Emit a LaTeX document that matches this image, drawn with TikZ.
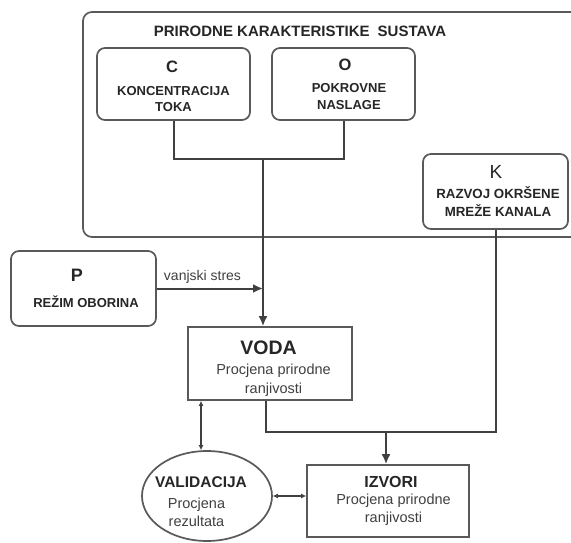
\documentclass[tikz,border=0pt]{standalone}
\usepackage{fontspec}
\setmainfont{Liberation Sans}
\usetikzlibrary{arrows.meta,shapes.geometric}
\begin{document}
\begin{tikzpicture}[x=1pt,y=-1pt,
  ln/.style={draw=black!75,line width=2pt},
  rbox/.style={draw=black!65,line width=1.7pt,rounded corners=8pt,inner sep=0pt},
  sbox/.style={draw=black!65,line width=1.7pt,inner sep=0pt},
  big/.style={-{Latex[length=10pt,width=9pt]}},
  small/.style={{Latex[length=5pt,width=5pt]}-{Latex[length=5pt,width=5pt]}},
  capt/.style={font=\fontsize{13}{16}\bfseries\selectfont,align=center,inner sep=0pt,text=black!85},
  lett/.style={font=\fontsize{16.5}{18}\bfseries\selectfont,inner sep=0pt,text=black!85},
  desc/.style={font=\fontsize{14.5}{19}\selectfont,align=center,inner sep=0pt,text=black!75},
  head/.style={font=\fontsize{16}{18}\bfseries\selectfont,inner sep=0pt,text=black!85}
]
\useasboundingbox (0,0) rectangle (571,543);
\clip (0,0) rectangle (571,543);
\fill[white] (0,0) rectangle (571,543);
% outer frame
\draw[draw=black!65,line width=1.7pt,rounded corners=9pt] (83,12) rectangle (590,237);
\node[font=\fontsize{15}{17}\bfseries\selectfont,text=black!85] (title) at (300,31) {PRIRODNE KARAKTERISTIKE\hspace{8pt}SUSTAVA};
% boxes
\node[rbox,minimum width=153pt,minimum height=72pt] (C) at (173.5,84) {};
\node[lett] (Cl) at (172,67) {C};
\node[capt] (Ct) at (173.5,99) {KONCENTRACIJA\\TOKA};
\node[rbox,minimum width=143pt,minimum height=72pt] (O) at (343.5,84) {};
\node[lett] (Ol) at (345,65) {O};
\node[capt,font=\fontsize{13}{17}\bfseries\selectfont] (Ot) at (349,96.5) {POKROVNE\\NASLAGE};
\node[rbox,minimum width=145pt,minimum height=75pt] (K) at (495.5,191.5) {};
\node[font=\fontsize{19}{20}\selectfont,inner sep=0pt,text=black!85] (Kl) at (496,172) {K};
\node[capt,font=\fontsize{13.3}{18}\bfseries\selectfont] (Kt) at (498,202) {RAZVOJ OKRŠENE\\MREŽE KANALA};
\node[rbox,minimum width=145pt,minimum height=75pt] (P) at (83.5,288.5) {};
\node[lett,font=\fontsize{18}{20}\bfseries\selectfont] (Pl) at (77,275) {P};
\node[capt] (Pt) at (86,302) {REŽIM OBORINA};
\node[sbox,minimum width=164pt,minimum height=73pt] (VODA) at (270,363.5) {};
\node[head,font=\fontsize{19.5}{21}\bfseries\selectfont] (Vh) at (268.5,348) {VODA};
\node[desc] (Vt) at (273.5,380) {Procjena prirodne\\ranjivosti};
\node[sbox,minimum width=162pt,minimum height=72pt] (IZV) at (388,501) {};
\node[head] (Ih) at (391,482) {IZVORI};
\node[desc,font=\fontsize{14.5}{18}\selectfont] (It) at (393.5,510) {Procjena prirodne\\ranjivosti};
\node[ellipse,draw=black!65,line width=1.7pt,minimum width=130pt,minimum height=90pt,inner sep=0pt] (VAL) at (207,496) {};
\node[head,font=\fontsize{15.5}{18}\bfseries\selectfont] (Vah) at (201,482) {VALIDACIJA};
\node[desc,font=\fontsize{14.5}{18}\selectfont] (Vat) at (196.5,512) {Procjena\\rezultata};
% connectors
\coordinate (j1) at (263,159);
\coordinate (j2) at (266,432);
\coordinate (j3) at (386,432);
\draw[ln] (C.south) |- (j1) -| (O.south);
\draw[ln,big] (j1) -- (j1 |- VODA.north);
\draw[ln,big] (P.east) -- (P.east -| j1) node[pos=0.43,above=1pt,font=\fontsize{14}{16}\selectfont,text=black!75] (vs) {vanjski stres};
\draw[ln] (j2 |- VODA.south) -- (j2) -- (K.south |- j2) -- (K.south);
\draw[ln,big] (j3) -- (j3 |- IZV.north);
\coordinate (v1) at (201,400);
\draw[ln,small,line width=1.6pt] (v1 |- VODA.south) -- (v1 |- VAL.north);
\draw[ln,small,line width=1.6pt] (VAL.east) -- (VAL.east -| IZV.west);
\end{tikzpicture}
\end{document}
